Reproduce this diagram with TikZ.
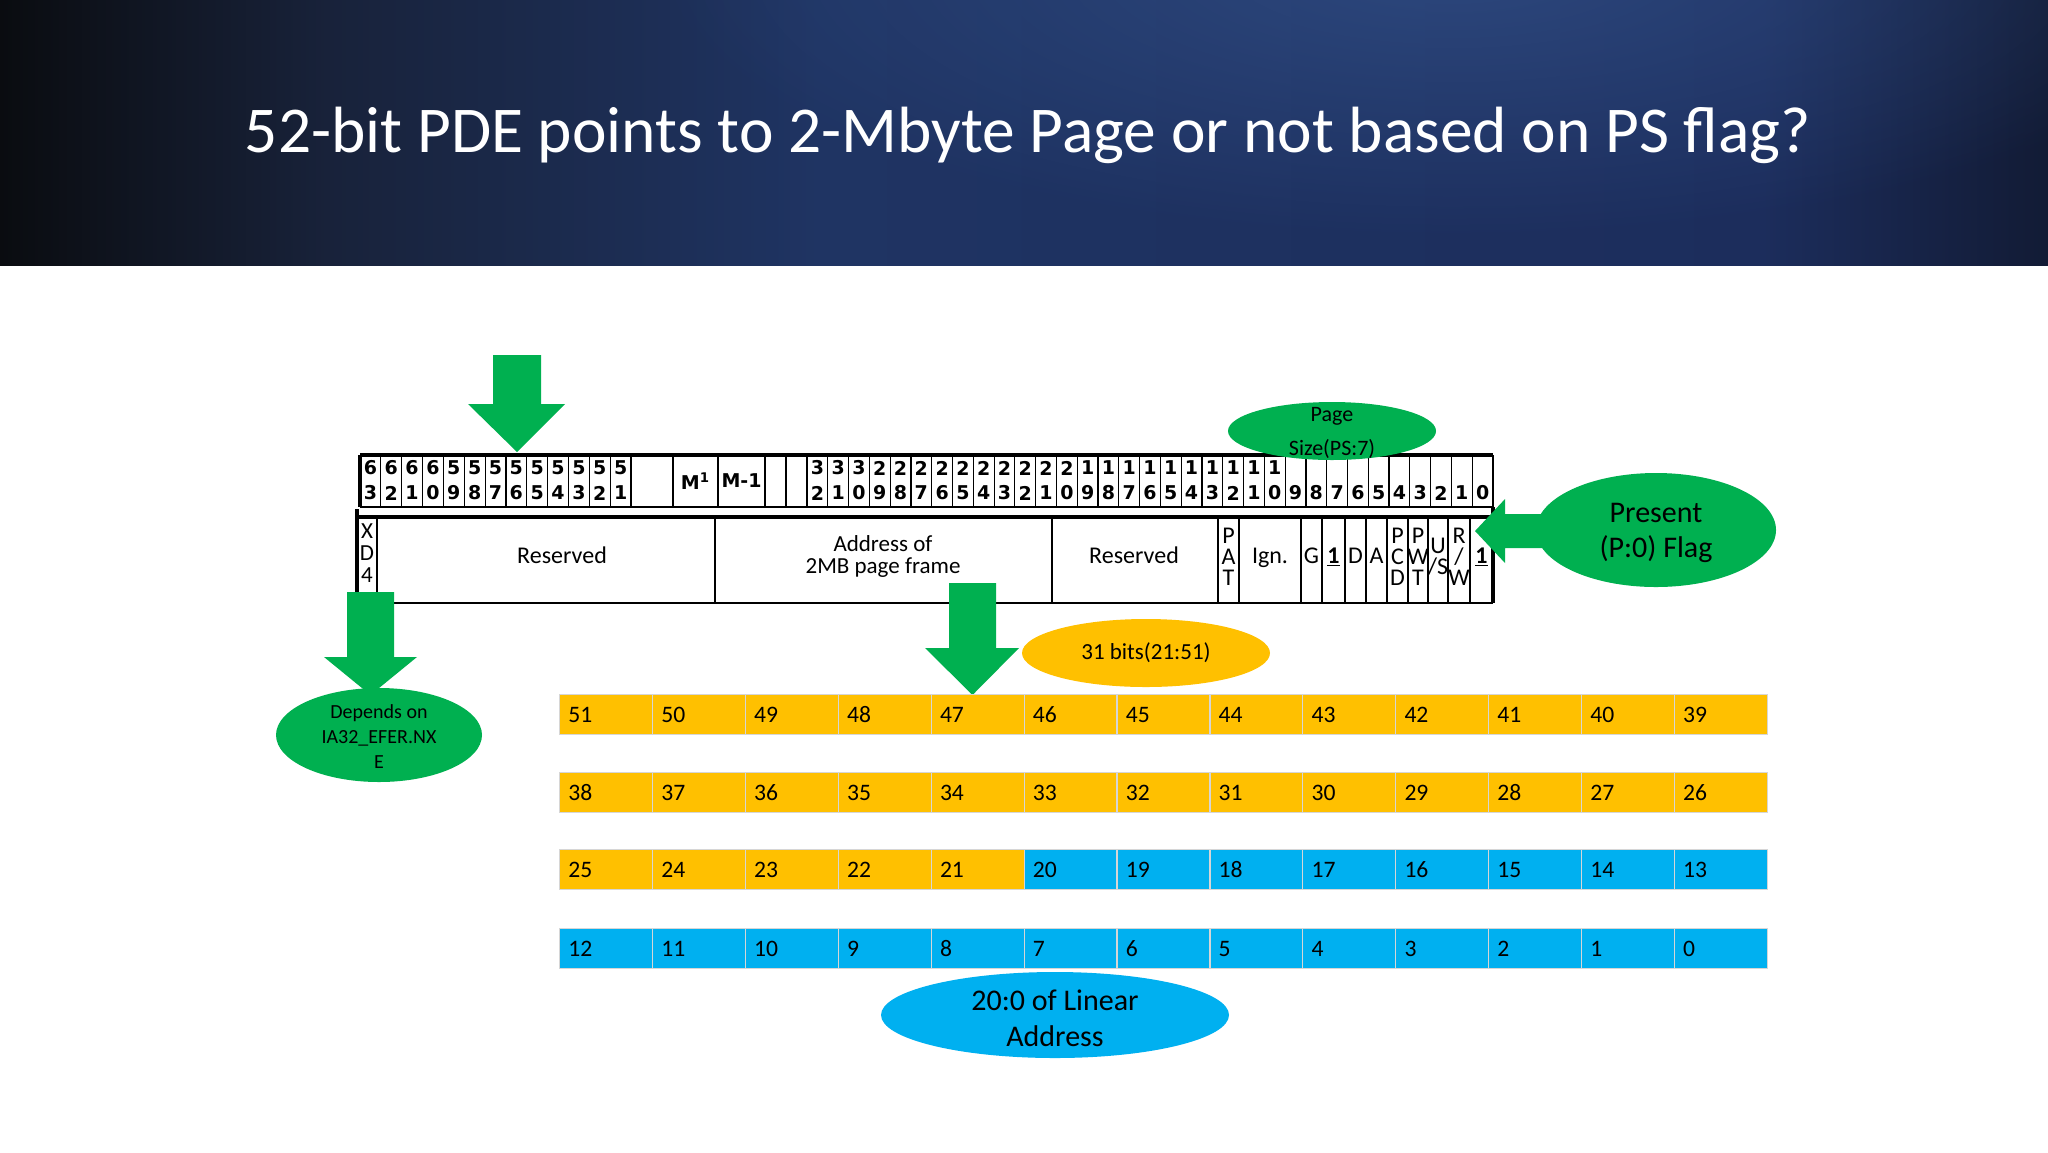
\documentclass[tikz,border=0pt]{standalone}
\usepackage{fontspec}
\setmainfont{Carlito}
\newfontfamily\hdrfont{DejaVu Sans}
\usetikzlibrary{fadings}
\definecolor{gr}{HTML}{00B050}
\definecolor{org}{HTML}{FFC000}
\definecolor{blu}{HTML}{00B0F0}
\definecolor{hdA}{HTML}{0A0C10}
\definecolor{hdI}{HTML}{18223A}
\definecolor{hdB}{HTML}{1F3463}
\definecolor{hdC}{HTML}{1C2D5C}
\definecolor{hdD}{HTML}{121B35}
\definecolor{glowc}{HTML}{3A5C98}
\definecolor{gridl}{HTML}{D6D6D6}
\pgfdeclarehorizontalshading{bandshade}{100bp}{color(0bp)=(hdA); color(25bp)=(hdA); color(33bp)=(hdI); color(45bp)=(hdB); color(68bp)=(hdC); color(75bp)=(hdD); color(100bp)=(hdD)}
\tikzfading[name=glowfade, inner color=transparent!45, outer color=transparent!100]
\newcommand{\fs}[2]{\fontsize{#1}{#2}\selectfont}
\begin{document}
\begin{tikzpicture}[x=0.5pt,y=-0.5pt,
  hdr/.style={font=\hdrfont\bfseries\fs{9.5}{9.5}, inner sep=0},
  bodytxt/.style={font=\fs{12}{12}, inner sep=0},
  stk/.style={font=\fs{12}{10.5}, inner sep=0, align=center},
  hairline/.style={line width=0.6pt},
  boldline/.style={line width=1.6pt},
  blockarrow/.style={fill=gr},
  cell/.style={draw=gridl, line width=0.6pt, minimum width=46.45pt, minimum height=20pt, inner sep=0, anchor=north west},
  num/.style={font=\fs{11.8}{12}, anchor=west, inner sep=0},
  bubble/.style={inner sep=0, align=center, text=black}]
\useasboundingbox (0,0) rectangle (2048,1152);
\fill[white] (0,0) rectangle (2048,1152);
% title band
\shade[shading=bandshade] (0,0) rectangle (2048,265);
\begin{scope}
  \clip (0,0) rectangle (2048,265);
  \fill[glowc, path fading=glowfade] (1450,-40) ellipse (800 and 280);
\end{scope}
\node[font=\fs{32.7}{36}, text=white, anchor=base, inner sep=0] (title) at (1028,152) {52-bit PDE points to 2-Mbyte Page or not based on PS flag?};

% ---------- header row of bit numbers ----------
\draw[boldline] (360,455) -- (1493,455);
\draw[boldline] (360,455) -- (360,507);
\draw[hairline] (360,507) -- (1493,507);
\foreach \i in {1,...,13} \draw[hairline] (360+\i*20.85,455) -- (360+\i*20.85,507);
\foreach \xx in {673,718,765,786} \draw[hairline] (\xx,455) -- (\xx,507);
\foreach \j in {0,...,33} \draw[hairline] (807+\j*20.788,455) -- (807+\j*20.788,507);
\foreach \i in {0,...,12} {
  \pgfmathtruncatemacro\b{63-\i}
  \pgfmathtruncatemacro\t{int(\b/10)}
  \pgfmathtruncatemacro\u{mod(\b,10)}
  \node[hdr] (h\b t) at (360+\i*20.85+10.4,468) {\t};
  \node[hdr] (h\b u) at (360+\i*20.85+10.4,493) {\u};
}
\foreach \j in {0,...,32} {
  \pgfmathtruncatemacro\b{32-\j}
  \pgfmathtruncatemacro\t{int(\b/10)}
  \pgfmathtruncatemacro\u{mod(\b,10)}
  \ifnum\b>9
    \node[hdr] (h\b t) at (807+\j*20.788+10.4,468) {\t};
  \fi
  \node[hdr] (h\b u) at (807+\j*20.788+10.4,493) {\u};
}
\node[hdr, font=\hdrfont\bfseries\fs{9.5}{9.5}] (mone) at (695.5,481) {M\textsuperscript{1}};
\node[hdr, font=\hdrfont\bfseries\fs{9.5}{9.5}] (mminus) at (741.5,481) {M-1};

% ---------- entry row ----------
\draw[boldline] (357,509) -- (357,603);
\draw[boldline] (357,517) -- (1493,517);
\draw[boldline] (1493,507) -- (1493,603);
\draw[hairline] (357,603) -- (1493,603);
\foreach \xx in {377,715,1052,1218,1239,1301,1322,1345,1366,1387,1408,1428,1448,1470}
  \draw[hairline] (\xx,517) -- (\xx,603);
\node[stk, font=\fs{11.5}{11}] (xd) at (367,553) {X\\D\\4};
\node[bodytxt, anchor=base] (res1) at (562,563) {Reserved};
\node[bodytxt, font=\fs{11.5}{11}, align=center] (addr) at (883,556) {Address of\\2MB page frame};
\node[bodytxt, anchor=base] (res2) at (1134,563) {Reserved};
\node[stk] (pat) at (1228.5,557) {P\\A\\T};
\node[bodytxt, anchor=base] (ign) at (1270,563) {Ign.};
\node[bodytxt, anchor=base] (gbit) at (1311.5,563) {G};
\node[bodytxt, anchor=base] (psbit) at (1333.5,563) {\underline{\textbf{1}}};
\node[bodytxt, anchor=base] (dbit) at (1355.5,563) {D};
\node[bodytxt, anchor=base] (abit) at (1376.5,563) {A};
\node[stk] (pcd) at (1397.5,557) {P\\C\\D};
\node[stk] (pwt) at (1418,557) {P\\W\\T};
\node[stk] (us) at (1438,557) {U\\/S};
\node[stk] (rw) at (1459,557) {R\\/\\W};
\node[bodytxt, anchor=base] (pbit) at (1481.5,563) {\underline{\textbf{1}}};

% ---------- green block arrows ----------
\fill[blockarrow] (493,355) -- (541,355) -- (541,404) -- (565,404) -- (517,452) -- (468,404) -- (493,404) -- cycle;
\fill[blockarrow] (347,592) -- (394,592) -- (394,657) -- (417,657) -- (370.5,695) -- (324,657) -- (347,657) -- cycle;
\fill[blockarrow] (949,583) -- (996,583) -- (996,648) -- (1019,648) -- (972.5,695) -- (925,648) -- (949,648) -- cycle;
\fill[blockarrow] (1545,514) -- (1505,514) -- (1505,499) -- (1475,531) -- (1505,563) -- (1505,548) -- (1545,548) -- cycle;

% ---------- callout ellipses ----------
\fill[gr] (1332,431) ellipse (104 and 29);
\node[bubble, font=\fs{11}{17}] (pagesize) at (1332,433) {Page\\Size(PS:7)};
\fill[gr] (1656,530) ellipse (120 and 57);
\node[bubble, font=\fs{15}{17.5}] (present) at (1656,533) {Present\\(P:0) Flag};
\fill[gr] (379,735) ellipse (103 and 47);
\node[bubble, font=\fs{10}{12.5}] (depends) at (379,737) {Depends on\\IA32\_EFER.NX\\E};
\fill[org] (1146,653) ellipse (124 and 34);
\node[bubble, font=\fs{11.5}{12}] (bits31) at (1146,653) {31 bits(21:51)};

% ---------- bit grid ----------
\foreach \r/\yy in {0/694,1/772,2/849,3/928} {
  \foreach \c in {0,...,12} {
    \pgfmathtruncatemacro\n{51-13*\r-\c}
    \ifnum\n>20 \def\cc{org}\else\def\cc{blu}\fi
    \node[cell, fill=\cc] (c\n) at (559+\c*92.9,\yy) {};
    \node[num] (t\n) at ([xshift=4.5pt]c\n.west) {\n};
  }
}
\fill[blu] (1055,1015) ellipse (174 and 43);
\node[bubble, font=\fs{15}{18}] (linear) at (1055,1018) {20:0 of Linear\\Address};
\end{tikzpicture}
\end{document}
